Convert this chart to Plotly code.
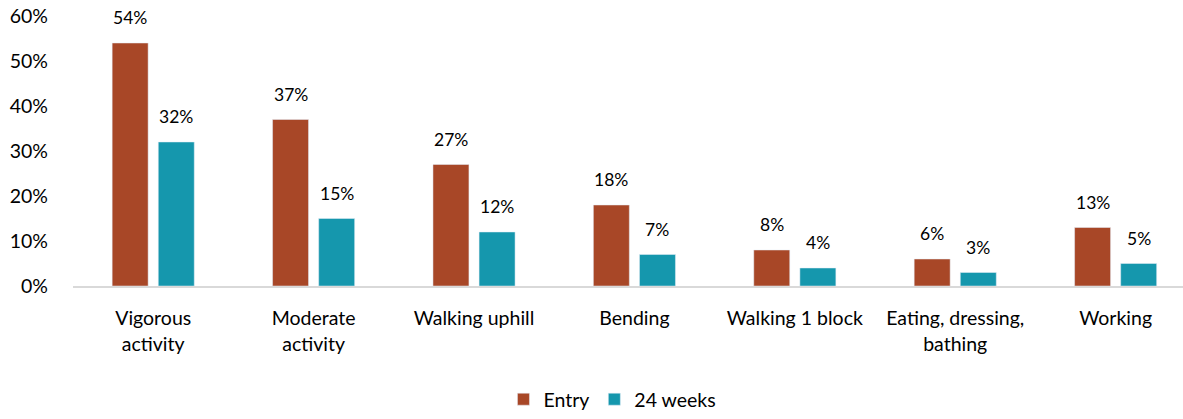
import plotly.graph_objects as go

categories = ["Vigorous<br>activity", "Moderate<br>activity", "Walking uphill", "Bending",
              "Walking 1 block", "Eating, dressing,<br>bathing", "Working"]
entry = [54, 37, 27, 18, 8, 6, 13]
week24 = [32, 15, 12, 7, 4, 3, 5]
y_ticks = [0, 10, 20, 30, 40, 50, 60]

ENTRY_COLOR = "#A84727"
WEEK_COLOR = "#1597AD"
FONT = "Lato, 'Open Sans', sans-serif"

fig = go.Figure()
fig.add_trace(go.Bar(name="Entry", x=categories, y=entry, marker_color=ENTRY_COLOR))
fig.add_trace(go.Bar(name="24 weeks", x=categories, y=week24, marker_color=WEEK_COLOR))

# value labels above each bar
annotations = []
for series, shift in ((entry, -23), (week24, 23)):
    for cat, v in zip(categories, series):
        annotations.append(dict(
            x=cat, y=v, xref="x", yref="y", text=f"{v}%", showarrow=False,
            xshift=shift, yshift=13, yanchor="bottom",
            font=dict(family=FONT, size=17.5, color="#000000"),
        ))

fig.update_layout(
    width=1183, height=419,
    margin=dict(l=73, r=0, t=16, b=130),
    paper_bgcolor="white", plot_bgcolor="white",
    barmode="group", bargap=0.425, bargroupgap=0.22,
    font=dict(family=FONT, size=19.5, color="#000000"),
    annotations=annotations,
    showlegend=True,
    legend=dict(orientation="h", x=0.486, xanchor="center", y=-0.35, yanchor="top",
                font=dict(family=FONT, size=19.5), itemwidth=30, traceorder="normal"),
    xaxis=dict(range=[-0.5, 6.42], showline=True, linecolor="#D9D9D9", linewidth=2,
               ticks="", ticklabelstandoff=14, tickfont=dict(family=FONT, size=19.5)),
    yaxis=dict(range=[0, 60], tickmode="array", tickvals=y_ticks,
               ticktext=[f"{v}%" for v in y_ticks], showgrid=False,
               zeroline=False, showline=False, ticks="", ticklabelstandoff=24,
               tickfont=dict(family=FONT, size=19.5)),
)

fig.write_html("out.html")
